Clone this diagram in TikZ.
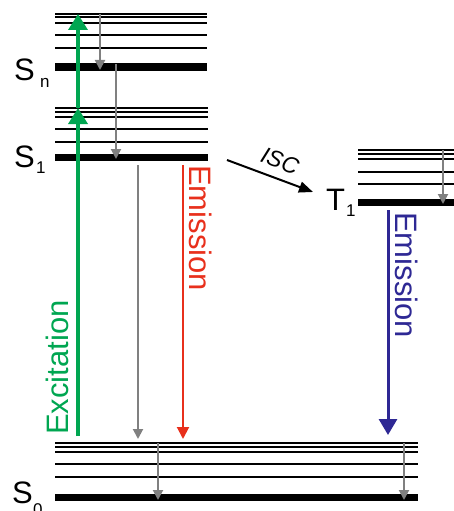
\documentclass[tikz,border=0pt]{standalone}
\usepackage{fontspec}
\setmainfont{Liberation Sans}
\usetikzlibrary{arrows.meta}
\definecolor{exgreen}{RGB}{0,166,81}
\definecolor{emred}{RGB}{232,48,28}
\definecolor{emblue}{RGB}{46,40,148}
\definecolor{relaxgray}{RGB}{128,128,128}
\tikzset{
  vib/.style={line width=2pt, black},
  lowest/.style={line width=7pt, black},
  relax/.style={relaxgray, line width=2pt, -{Triangle[width=10pt,length=10pt]}},
  excite/.style={exgreen, line width=3.5pt, -{Triangle[width=19pt,length=16pt]}},
  fluor/.style={emred, line width=2pt, -{Triangle[width=12pt,length=12pt]}},
  phos/.style={emblue, line width=3pt, -{Triangle[width=18pt,length=16pt]}},
  isc/.style={black, line width=2pt, -{Triangle[width=11pt,length=14pt]}},
  statelbl/.style={anchor=base west, inner sep=0pt, font=\fontsize{31}{31}\selectfont},
  sublbl/.style={anchor=base west, inner sep=0pt, font=\fontsize{17}{17}\selectfont},
  proclbl/.style={anchor=base west, inner sep=0pt, font=\fontsize{31}{31}\selectfont}
}
\begin{document}
\begin{tikzpicture}[x=1pt,y=-1pt]
\useasboundingbox (0,0) rectangle (454,511);

% vibrational manifolds
\foreach \y in {14,17.5,23,35.5,48} \draw[vib] (55,\y) -- (207,\y);
\draw[lowest] (55,67) -- (207,67);
\foreach \y in {108,112,117,129,142} \draw[vib] (55,\y) -- (208,\y);
\draw[lowest] (55,157) -- (208,157);
\foreach \y in {150,153.5,159,171.5,184} \draw[vib] (358,\y) -- (454,\y);
\draw[lowest] (358,202) -- (454,202);
\foreach \y in {443,446.5,452,464,477} \draw[vib] (55,\y) -- (418,\y);
\draw[lowest] (55,497) -- (418,497);

% state labels
\node[statelbl] (Sn) at (14,80) {S};
\node[sublbl] (Snsub) at (40,88) {n};
\node[statelbl] (S1) at (14,167) {S};
\node[sublbl] (S1sub) at (36,173) {1};
\node[statelbl] (S0) at (12,503) {S};
\node[sublbl] (S0sub) at (33,515) {0};
\node[statelbl] (T1) at (326,210) {T};
\node[sublbl] (T1sub) at (346,216) {1};

% end points of the transitions
\coordinate (exA) at (78,436);
\coordinate (exB) at (78,108);
\coordinate (exC) at (78,14);
\coordinate (rnA) at (100,14);
\coordinate (rnB) at (100,70);
\coordinate (icA) at (116,64);
\coordinate (icB) at (116,159);
\coordinate (nrA) at (138,165);
\coordinate (nrB) at (138,439);
\coordinate (flA) at (183,165);
\coordinate (flB) at (183,439);
\coordinate (r0A) at (158,443);
\coordinate (r0B) at (158,500);
\coordinate (r1A) at (404,443);
\coordinate (r1B) at (404,500);
\coordinate (rtA) at (443,150);
\coordinate (rtB) at (443,204);
\coordinate (phA) at (388,210);
\coordinate (phB) at (388,435);
\coordinate (iscA) at (227,160);
\coordinate (iscB) at (313,192);

% transitions
\draw[excite] (exA) -- (exB);
\draw[excite] (exB) -- (exC);
\draw[relax] (rnA) -- (rnB);
\draw[relax] (icA) -- (icB);
\draw[relax] (nrA) -- (nrB);
\draw[fluor] (flA) -- (flB);
\draw[relax] (r0A) -- (r0B);
\draw[relax] (r1A) -- (r1B);
\draw[relax] (rtA) -- (rtB);
\draw[phos] (phA) -- (phB);
\draw[isc] (iscA) -- (iscB);

% process labels
\node[proclbl, exgreen, rotate=90] (exlbl) at (68,435) {Excitation};
\node[proclbl, emred, rotate=-90] (fllbl) at (189,165) {Emission};
\node[proclbl, emblue, rotate=-90] (phlbl) at (395,212) {Emission};
\node[inner sep=0pt, rotate=-21, font=\fontsize{23}{23}\selectfont\itshape] (isclbl) at (280,161) {ISC};
\end{tikzpicture}
\end{document}
